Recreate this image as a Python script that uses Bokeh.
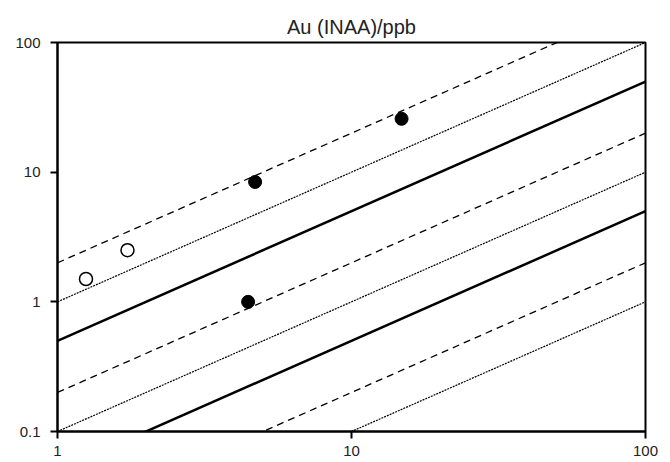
from bokeh.plotting import figure
from bokeh.models import FixedTicker, NumeralTickFormatter, Range1d
from bokeh.embed import file_html
from bokeh.resources import INLINE

# Reference lines y = k * x
solid_k = [0.5, 0.05]
dashed_k = [2, 0.2, 0.02]
dotted_k = [1, 0.1, 0.01]
line_x = [1, 100]

# Data points
open_x = [1.25, 1.73]
open_y = [1.5, 2.5]
filled_x = [4.7, 14.8, 4.45]
filled_y = [8.4, 25.8, 1.0]

x_ticks = [1, 10, 100]
y_ticks = [0.1, 1, 10, 100]

FONT = "Liberation Sans"

p = figure(width=665, height=458, x_axis_type="log", y_axis_type="log",
           x_range=Range1d(1, 100), y_range=Range1d(0.1, 100),
           output_backend="svg", toolbar_location=None,
           title="Au (INAA)/ppb",
           min_border_left=57, min_border_right=20, min_border_top=42, min_border_bottom=27)

p.title.align = "center"
p.title.text_font = FONT
p.title.text_font_size = "20px"
p.title.text_font_style = "normal"
p.title.text_color = "#222222"

p.xgrid.visible = False
p.ygrid.visible = False
p.outline_line_color = "black"
p.outline_line_width = 2

for ax, ticks in ((p.xaxis, x_ticks), (p.yaxis, y_ticks)):
    ax.ticker = FixedTicker(ticks=ticks)
    ax.formatter = NumeralTickFormatter(format="0.[0]")
    ax.minor_tick_line_color = None
    ax.axis_line_color = "black"
    ax.axis_line_width = 2
    ax.major_tick_line_color = "black"
    ax.major_tick_line_width = 2
    ax.major_tick_out = 7
    ax.major_tick_in = 0
    ax.major_label_text_font = FONT
    ax.major_label_text_font_size = "15px"
    ax.major_label_text_color = "#222222"

p.xaxis.major_label_standoff = 7
p.yaxis.major_label_standoff = 10

for k in solid_k:
    p.line(line_x, [k * v for v in line_x], line_color="black", line_width=2.5)
for k in dashed_k:
    p.line(line_x, [k * v for v in line_x], line_color="black", line_width=1.3, line_dash="7 5")
for k in dotted_k:
    p.line(line_x, [k * v for v in line_x], line_color="black", line_width=1.2, line_dash="2 1")

p.scatter(open_x, open_y, size=13, fill_color="white", line_color="black", line_width=1.5)
p.scatter(filled_x, filled_y, size=13, fill_color="black", line_color="black")

open("out.html", "w").write(file_html(p, INLINE))
